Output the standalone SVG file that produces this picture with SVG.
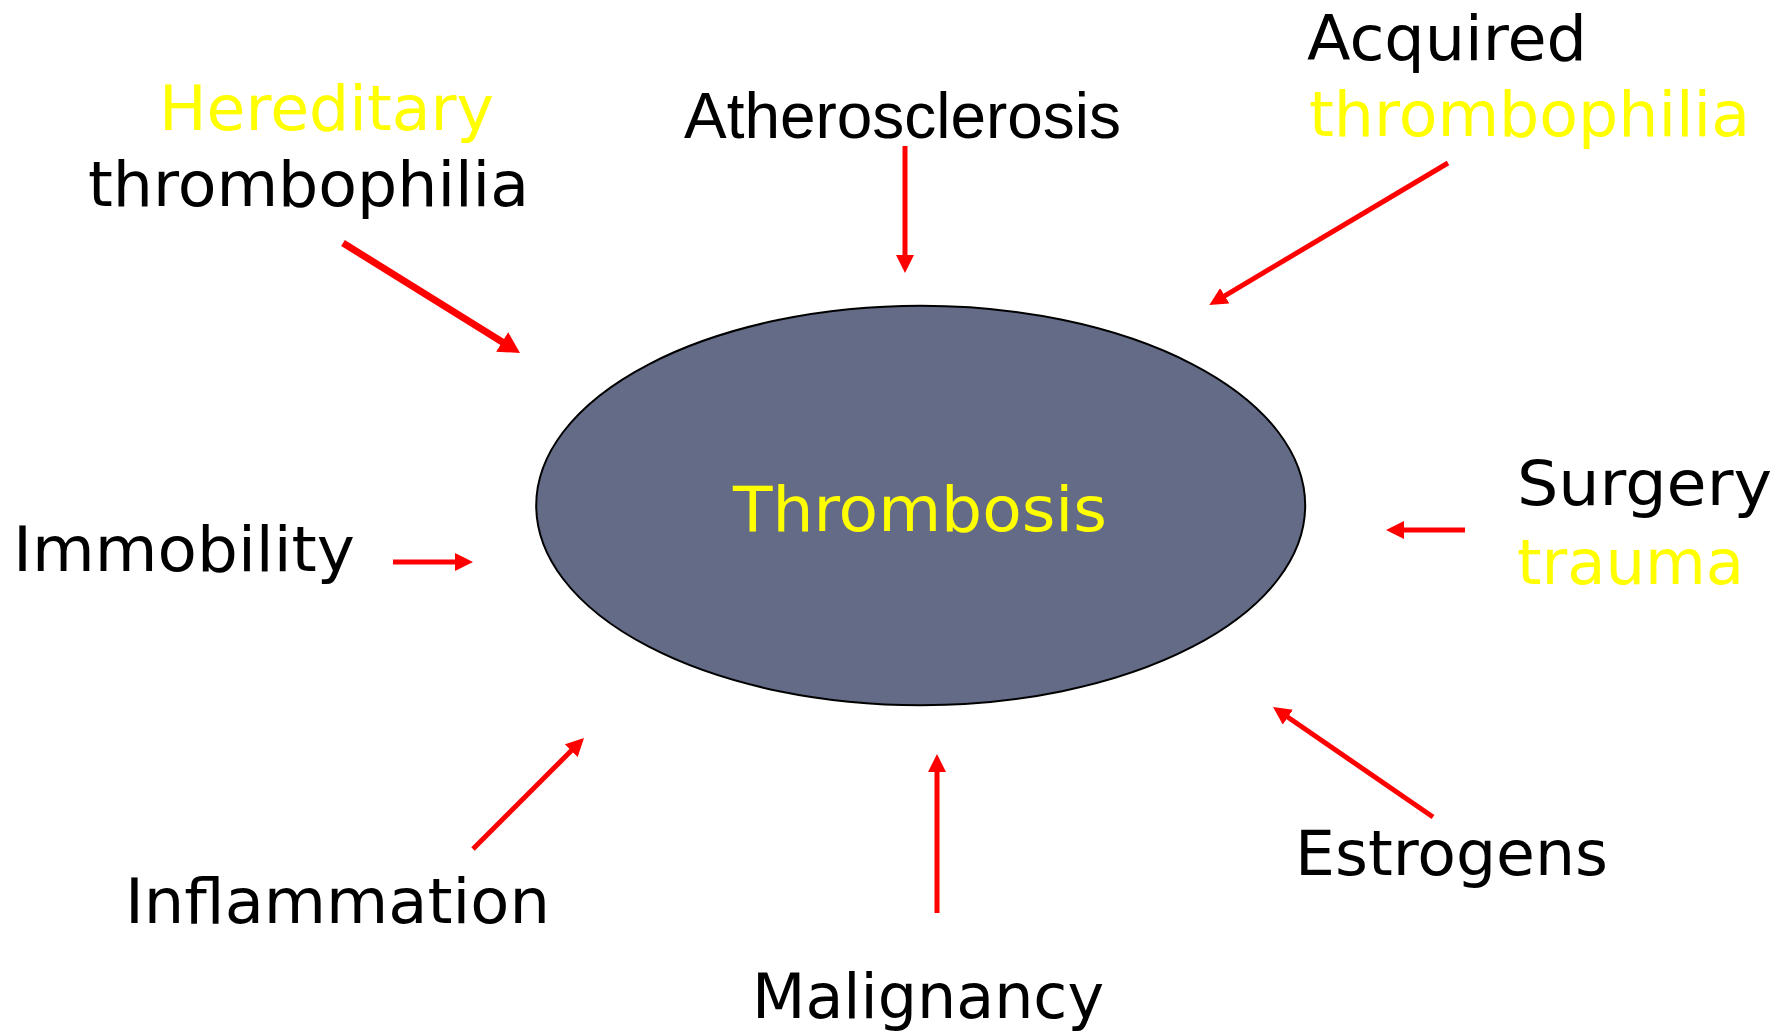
<svg xmlns="http://www.w3.org/2000/svg" width="1789" height="1033" viewBox="0 0 1789 1033">
<style>
.t{font-family:"DejaVu Sans",Verdana,sans-serif;font-size:63px;fill:#000}
.y{fill:#FFFF00}
.a{font-family:"Liberation Sans",Arial,sans-serif;font-size:64px;fill:#000}
.c{stroke:#FF0000;stroke-width:5;fill:none;marker-end:url(#ah)}
</style>
<defs>
<marker id="ah" markerUnits="userSpaceOnUse" markerWidth="18" markerHeight="18" refX="3" refY="9" orient="auto" viewBox="0 0 18 18"><path d="M0,0 L18,9 L0,18 z" fill="#FF0000"/></marker>
<marker id="ahb" markerUnits="userSpaceOnUse" markerWidth="21" markerHeight="23" refX="3" refY="11.5" orient="auto" viewBox="0 0 21 23"><path d="M0,0 L21,11.5 L0,23 z" fill="#FF0000"/></marker>
</defs>
<rect width="1789" height="1033" fill="#FFFFFF"/>
<g id="thrombosis">
<ellipse cx="920.7" cy="505.5" rx="384.5" ry="199.7" fill="#636B86" stroke="#000" stroke-width="2"/>
<text class="t y" x="733" y="531" font-size="64" textLength="374" lengthAdjust="spacingAndGlyphs">Thrombosis</text>
</g>
<g id="hereditary">
<text class="t y" x="159" y="130" textLength="335" lengthAdjust="spacingAndGlyphs">Hereditary</text>
<text class="t" x="88" y="206" textLength="441" lengthAdjust="spacingAndGlyphs">thrombophilia</text>
</g>
<g id="atherosclerosis">
<text class="a" x="684" y="138" textLength="437" lengthAdjust="spacingAndGlyphs">Atherosclerosis</text>
</g>
<g id="acquired">
<text class="t" x="1307" y="60" textLength="280" lengthAdjust="spacingAndGlyphs">Acquired</text>
<text class="t y" x="1309" y="136" textLength="441" lengthAdjust="spacingAndGlyphs">thrombophilia</text>
</g>
<g id="immobility">
<text class="t" x="13" y="571" textLength="342" lengthAdjust="spacingAndGlyphs">Immobility</text>
</g>
<g id="surgery">
<text class="t" x="1517" y="505" textLength="255" lengthAdjust="spacingAndGlyphs">Surgery</text>
<text class="t y" x="1517" y="584" textLength="227" lengthAdjust="spacingAndGlyphs">trauma</text>
</g>
<g id="inflammation">
<text class="t" x="125" y="923" textLength="425" lengthAdjust="spacingAndGlyphs">Inflammation</text>
</g>
<g id="malignancy">
<text class="t" x="752" y="1018" textLength="352" lengthAdjust="spacingAndGlyphs">Malignancy</text>
</g>
<g id="estrogens">
<text class="t" x="1295" y="875" textLength="313" lengthAdjust="spacingAndGlyphs">Estrogens</text>
</g>
<g id="connectors">
<line x1="343" y1="243" x2="504.7" y2="343.5" stroke="#FF0000" stroke-width="7" marker-end="url(#ahb)"/>
<line class="c" x1="905" y1="146" x2="905" y2="258"/>
<line class="c" x1="1448" y1="163" x2="1222.2" y2="297.3"/>
<line class="c" x1="393" y1="562" x2="458" y2="562"/>
<line class="c" x1="1465" y1="530" x2="1401" y2="530"/>
<line class="c" x1="473" y1="849" x2="573.4" y2="748.6"/>
<line class="c" x1="937" y1="913" x2="937" y2="769"/>
<line class="c" x1="1433" y1="817" x2="1285.4" y2="715.5"/>
</g>
</svg>
